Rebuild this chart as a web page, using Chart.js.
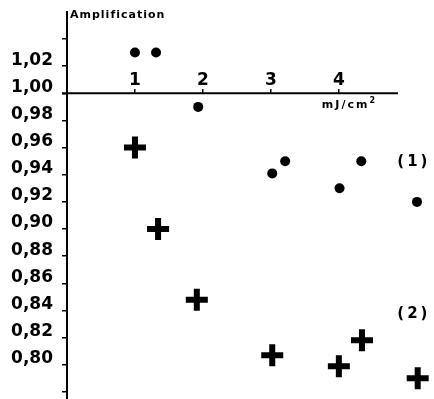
<!DOCTYPE html>
<html>
<head>
<meta charset="utf-8">
<script src="https://cdn.jsdelivr.net/npm/chart.js@4"></script>
<style>
    html, body { margin: 0; padding: 0; background: #fff; overflow: hidden; }
    #wrap { width: 434px; height: 399px; position: relative; }
    canvas { display: block; }
</style>
</head>
<body>
<div id="wrap"><canvas id="ampChart"></canvas></div>
<script>
// serie (1) = ronds, serie (2) = croix
const series1X = [1.0, 1.31, 1.93, 3.02, 3.21, 4.01, 4.33, 5.15];
const series1Y = [1.030, 1.030, 0.990, 0.941, 0.950, 0.930, 0.950, 0.920];
const series2X = [1.0, 1.34, 1.91, 3.02, 4.0, 4.34, 5.16];
const series2Y = [0.960, 0.900, 0.848, 0.807, 0.799, 0.818, 0.790];

const xTicks = [1, 2, 3, 4];
const yTicks = [0.78, 0.80, 0.82, 0.84, 0.86, 0.88, 0.90, 0.92, 0.94, 0.96, 0.98, 1.00, 1.02, 1.04];
const yTickLabels = ['', '0,80', '0,82', '0,84', '0,86', '0,88', '0,90', '0,92', '0,94', '0,96', '0,98', '1,00', '1,02', ''];

const yTitle = 'Amplification';
const xUnit = 'mJ/cm';
const seriesNames = ['(1)', '(2)'];
const xAxisEnd = 4.87;

const toPoints = (xs, ys) => xs.map((x, i) => ({ x: x, y: ys[i] }));

// ligne horizontale a y = 1,00 et textes libres
const annotations = {
    id: 'annotations',
    afterDraw(chart) {
        const ctx = chart.ctx;
        const xs = chart.scales.x;
        const ys = chart.scales.y;
        const y0 = ys.getPixelForValue(1.0);
        ctx.save();
        ctx.strokeStyle = '#000';
        ctx.lineWidth = 2;
        ctx.beginPath();
        ctx.moveTo(xs.getPixelForValue(0) - 5, y0);
        ctx.lineTo(xs.getPixelForValue(xAxisEnd), y0);
        ctx.stroke();

        ctx.fillStyle = '#000';
        ctx.textBaseline = 'alphabetic';
        ctx.textAlign = 'left';

        ctx.font = 'bold 11px "DejaVu Sans"';
        ctx.letterSpacing = '1px';
        ctx.fillText(yTitle, chart.chartArea.left + 3, 18);

        ctx.letterSpacing = '2px';
        const ux = xs.getPixelForValue(3.75);
        ctx.fillText(xUnit, ux, y0 + 15);
        const w = ctx.measureText(xUnit).width;
        ctx.font = 'bold 8px "DejaVu Sans"';
        ctx.letterSpacing = '0px';
        ctx.fillText('2', ux + w, y0 + 10);

        ctx.font = 'bold 15px "DejaVu Sans"';
        ctx.letterSpacing = '3px';
        ctx.textBaseline = 'middle';
        ctx.fillText(seriesNames[0], xs.getPixelForValue(4.86), ys.getPixelForValue(0.949));
        ctx.fillText(seriesNames[1], xs.getPixelForValue(4.86), ys.getPixelForValue(0.837));
        ctx.restore();
    }
};

const tickFont = { family: 'DejaVu Sans', weight: 'bold', size: 17 };

new Chart(document.getElementById('ampChart'), {
    type: 'scatter',
    data: {
        datasets: [{
            label: seriesNames[0],
            data: toPoints(series1X, series1Y),
            pointStyle: 'circle',
            pointRadius: 5,
            backgroundColor: '#000',
            borderWidth: 0,
            clip: false,
        }, {
            label: seriesNames[1],
            data: toPoints(series2X, series2Y),
            pointStyle: 'cross',
            pointRadius: 11,
            borderColor: '#000',
            borderWidth: 6,
            clip: false,
        }]
    },
    options: {
        responsive: true,
        maintainAspectRatio: false,
        animation: false,
        // pas de marge auto pour les gros symboles, sinon la zone se retrecit
        layout: { autoPadding: false, padding: { top: 12, left: 0, right: 0, bottom: 0 } },
        plugins: {
            legend: { display: false },
            tooltip: { enabled: false },
        },
        scales: {
            x: {
                type: 'linear',
                min: 0,
                max: 5.4,
                position: { y: 1 },
                afterBuildTicks: (s) => { s.ticks = xTicks.map(v => ({ value: v })); },
                afterFit: (s) => { s.height = 0; s.paddingLeft = 0; s.paddingRight = 0; },
                grid: { drawOnChartArea: false, drawTicks: true, tickLength: -4, color: '#000', lineWidth: 1.5 },
                border: { display: false },
                ticks: {
                    padding: -19,
                    color: '#000',
                    font: tickFont,
                    maxRotation: 0,
                    autoSkip: false,
                    callback: (v) => String(v),
                },
            },
            y: {
                type: 'linear',
                min: 0.7748,
                max: 1.0599,
                position: 'left',
                afterBuildTicks: (s) => { s.ticks = yTicks.map(v => ({ value: v })); },
                afterFit: (s) => { s.width = 67; s.paddingTop = 0; s.paddingBottom = 0; },
                grid: { drawOnChartArea: false, drawTicks: true, tickLength: 5, color: '#000', lineWidth: 1.5 },
                border: { display: true, color: '#000', width: 2 },
                ticks: {
                    padding: 9,
                    labelOffset: -6,
                    color: '#000',
                    font: tickFont,
                    autoSkip: false,
                    callback: (v, i) => yTickLabels[i],
                },
            },
        },
    },
    plugins: [annotations],
});
</script>
</body>
</html>
